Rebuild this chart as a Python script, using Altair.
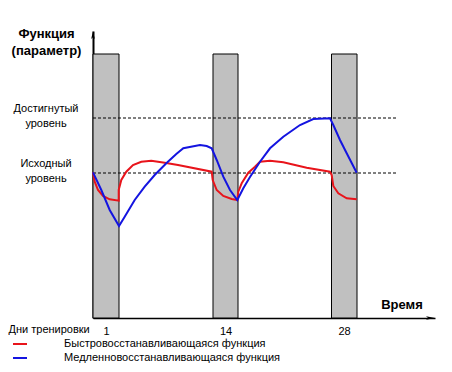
import altair as alt
import pandas as pd

# ---- data (abstract units) ----
bar_start = [0, 120, 238.5]
bar_end = [26, 145, 264]
bar_top = 264
day_ticks = [13, 132.5, 251]
day_labels = ["1", "14", "28"]

level_names = ["Исходный\nуровень", "Достигнутый\nуровень"]
level_values = [145, 200]
level_line_end = 305

series_names = ["Быстровосстанавливающаяся функция", "Медленновосстанавливающаяся функция"]
series_colors = ["#e8141b", "#1414e0"]

red_x = [0, 1.7, 5, 10, 16.7, 25.7, 25.7, 28.3, 33.3, 40, 48.3, 58.3, 71.7, 85, 118.7,
         119.7, 123.7, 130.3, 138.7, 144.3, 145.3, 148.7, 155.3, 162, 167, 177, 190.3,
         213.7, 237, 238.7, 240.3, 245.3, 253.7, 263.7]
red_y = [145.7, 136.3, 128, 122, 118.7, 117.3, 128, 138, 146.3, 153, 156.3, 157.3, 155.3, 153, 146.3,
         138, 128, 122, 119, 118, 126.3, 134.7, 145.3, 151.3, 156.3, 157.3, 155.7,
         150.3, 146.3, 143, 132, 124.7, 119.7, 118.7]

blue_x = [0, 8.3, 16.7, 26, 31.7, 41.7, 51.7, 61.7, 73.3, 83.3, 90.3, 107, 113.7, 118.7,
          123.7, 130.3, 137, 144.3, 150.3, 157, 167, 177, 190.3, 207, 220.3, 237,
          240.3, 247, 253.7, 263.7]
blue_y = [145.7, 128, 108, 92, 101.3, 118, 131.3, 143, 154.7, 164, 169.7, 173, 172, 169.7,
          158, 141.3, 128, 118, 129.7, 141, 156.3, 169.7, 181.3, 193, 199, 199.7,
          193, 178, 164.7, 145.3]

# ---- tables ----
bars = pd.DataFrame({"start": bar_start, "end": bar_end, "top": [bar_top] * len(bar_start),
                     "base": [0] * len(bar_start)})
levels = pd.DataFrame({"name": level_names, "value": level_values,
                       "x0": [0] * 2, "x1": [level_line_end] * 2})
rows = []
for name, xs, ys in [(series_names[0], red_x, red_y), (series_names[1], blue_x, blue_y)]:
    for i, (xv, yv) in enumerate(zip(xs, ys)):
        rows.append({"series": name, "t": xv, "v": yv, "i": i})
curves = pd.DataFrame(rows)

FONT = "Liberation Sans"
W, H = 342, 287
xscale = alt.Scale(domain=[0, W], nice=False, zero=False)
yscale = alt.Scale(domain=[0, H], nice=False, zero=False)

label_expr = " : ".join(
    f"datum.value == {v} ? '{l}'" for v, l in zip(day_ticks[:-1], day_labels[:-1])
) + f" : '{day_labels[-1]}'"

x_axis = alt.Axis(values=day_ticks, labelExpr=label_expr, ticks=False, grid=False,
                  domain=True, domainColor="black", domainWidth=1.5,
                  labelFontSize=11, labelFont=FONT,
                  labelColor="black", labelPadding=7, labelBaseline="top",
                  title="Дни тренировки", titleFont=FONT, titleFontSize=11, titleFontWeight="normal",
                  titleColor="black", titleX=-85, titleY=11, titleAlign="left", titleBaseline="middle")
y_axis = alt.Axis(labels=False, ticks=False, grid=False, domain=True,
                  domainColor="black", domainWidth=2,
                  title=["Функция", "(параметр)"], titleAngle=0, titleX=-47, titleY=-4,
                  titleAlign="center", titleBaseline="top", titleFont=FONT, titleFontSize=13,
                  titleFontWeight="bold", titleColor="black", titleLineHeight=17)

bar_layer = alt.Chart(bars).mark_rect(fill="#c0c0c0", stroke="black", strokeWidth=1).encode(
    x=alt.X("start:Q", scale=xscale, axis=x_axis),
    x2="end:Q",
    y=alt.Y("top:Q", scale=yscale, axis=y_axis),
    y2="base:Q",
)

level_rules = alt.Chart(levels).mark_rule(color="black", strokeWidth=1, strokeDash=[3, 2]).encode(
    x=alt.X("x0:Q", scale=xscale),
    x2="x1:Q",
    y=alt.Y("value:Q", scale=yscale),
)

level_text = alt.Chart(levels).mark_text(font=FONT, fontSize=11, lineBreak="\n", lineHeight=15,
                                         align="center", baseline="middle", dy=-9,
                                         color="black").encode(
    x=alt.value(-47),
    y=alt.Y("value:Q", scale=yscale),
    text="name:N",
)

lines = alt.Chart(curves).mark_line(strokeWidth=2, clip=False).encode(
    x=alt.X("t:Q", scale=xscale),
    y=alt.Y("v:Q", scale=yscale),
    color=alt.Color("series:N",
                    scale=alt.Scale(domain=series_names, range=series_colors),
                    legend=alt.Legend(orient="none", legendX=-81, legendY=306, title=None,
                                      symbolType="stroke", symbolStrokeWidth=2, symbolSize=196,
                                      labelOffset=36, labelFontSize=11, labelFont=FONT,
                                      labelColor="black", labelLimit=400, padding=0, rowPadding=0,
                                      clipHeight=14, direction="vertical")),
    order="i:Q",
)

one = bars.head(1)
y_arrow = alt.Chart(one).mark_point(shape="M0,-1L0.45,1L0,0.55L-0.45,1Z", filled=True,
                                    color="black", size=64, opacity=1).encode(
    x=alt.value(0), y=alt.value(4))
x_arrow = alt.Chart(one).mark_point(shape="M1,0L-1,-0.4L-0.55,0L-1,0.4Z", filled=True,
                                    color="black", size=81, opacity=1).encode(
    x=alt.value(W - 4.5), y=alt.value(H))

time_text = alt.Chart(one).mark_text(text="Время", font=FONT, fontSize=13,
                                     fontWeight="bold", color="black",
                                     align="center", baseline="middle").encode(
    x=alt.value(309), y=alt.value(274))

chart = alt.layer(
    bar_layer, level_rules, level_text, lines, y_arrow, x_arrow, time_text
).properties(
    width=W, height=H,
    autosize=alt.AutoSizeParams(type="none"),
    padding={"left": 85, "top": 23, "right": 9, "bottom": 46},
).configure(background="white").configure_view(stroke=None)

chart.save("out.html", embed_options={"renderer": "svg", "actions": False})
